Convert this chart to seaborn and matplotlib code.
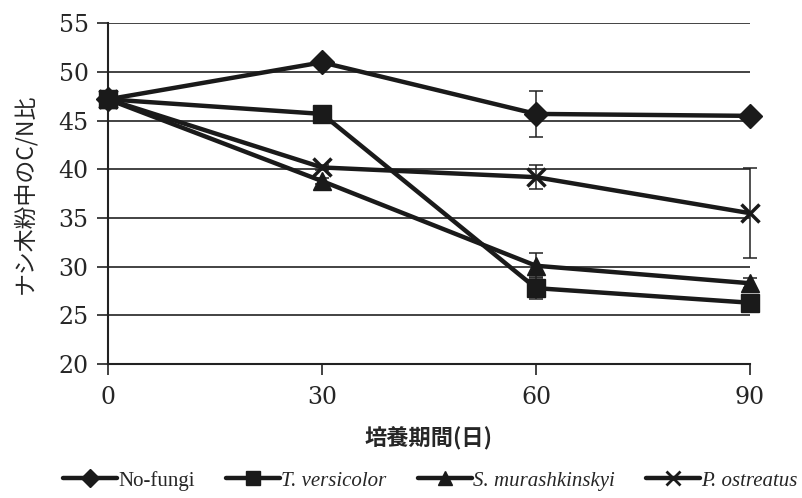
import matplotlib
matplotlib.use('Agg')
import matplotlib.pyplot as plt
import seaborn as sns
import pandas as pd
from matplotlib.lines import Line2D

days = [0, 30, 60, 90]
series_names = ['No-fungi', 'T. versicolor', 'S. murashkinskyi', 'P. ostreatus']
no_fungi = [47.2, 51.0, 45.7, 45.5]
t_versicolor = [47.2, 45.7, 27.8, 26.3]
s_murashkinskyi = [47.2, 38.8, 30.1, 28.3]
p_ostreatus = [47.2, 40.2, 39.2, 35.5]
no_fungi_err = [0.3, 0.3, 2.4, 0.2]
t_versicolor_err = [0.3, 0.3, 1.1, 0.5]
s_murashkinskyi_err = [0.3, 0.3, 1.3, 0.5]
p_ostreatus_err = [0.3, 0.3, 1.2, 4.65]

values = [no_fungi, t_versicolor, s_murashkinskyi, p_ostreatus]
errors = [no_fungi_err, t_versicolor_err, s_murashkinskyi_err, p_ostreatus_err]
markers = {'No-fungi': 'D', 'T. versicolor': 's', 'S. murashkinskyi': '^', 'P. ostreatus': 'x'}
msizes = {'No-fungi': 12, 'T. versicolor': 13, 'S. murashkinskyi': 13, 'P. ostreatus': 13}

rows = []
for name, vals in zip(series_names, values):
    for d, v in zip(days, vals):
        rows.append({'day': d, 'cn': v, 'group': name})
df = pd.DataFrame(rows)

sns.set_style('white')
plt.rcParams['font.family'] = ['DejaVu Serif']

fig = plt.figure(figsize=(8.03, 4.98), dpi=100)
ax = fig.add_axes([0.1345, 0.269, 0.7995, 0.684])

# error bars first
for name, vals, errs in zip(series_names, values, errors):
    eb = ax.errorbar(days, vals, yerr=errs, fmt='none', ecolor='#222222',
                     elinewidth=1.1, capsize=5, capthick=1.1, zorder=2)
    for part in eb.lines[1] + eb.lines[2]:
        part.set_clip_on(False)

for name in series_names:
    sub = df[df['group'] == name]
    sns.lineplot(data=sub, x='day', y='cn', ax=ax, color='#1a1a1a',
                 linewidth=3.2, marker=markers[name], markersize=msizes[name],
                 markeredgewidth=2.5 if name == 'P. ostreatus' else 1,
                 markeredgecolor='#1a1a1a', markerfacecolor='#1a1a1a',
                 legend=False, zorder=3, clip_on=False)

ax.set_xlim(0, 90)
ax.set_ylim(20, 55)
ax.set_xticks(days)
ax.set_yticks(range(20, 56, 5))
ax.yaxis.grid(True, color='#222222', linewidth=1.2)
ax.set_axisbelow(True)
for s in ['top', 'right']:
    ax.spines[s].set_visible(False)
for s in ['left', 'bottom']:
    ax.spines[s].set_color('#222222')
    ax.spines[s].set_linewidth(1.5)
ax.tick_params(axis='y', left=True, length=8, width=1.2, color='#222222', labelsize=17, pad=6)
ax.tick_params(axis='x', bottom=True, length=8, width=1.2, color='#222222', labelsize=17, pad=8)
ax.set_xlabel('培養期間(日)', family=['Noto Sans CJK JP'], fontweight='bold',
              fontsize=16, labelpad=12)
ax.set_ylabel('ナシ木粉中のC/N比', family=['Noto Sans CJK JP'], fontsize=16.5, labelpad=16)

handles = [Line2D([0], [0], color='#1a1a1a', linewidth=3.2, marker=markers[n],
                  markersize=msizes[n] * 0.75, markeredgewidth=2 if n == 'P. ostreatus' else 1)
           for n in series_names]
leg = fig.legend(handles, series_names, loc='center', bbox_to_anchor=(0.536, 0.035),
                 ncol=4, frameon=False, handlelength=2.6, handletextpad=0.05,
                 columnspacing=1.5, prop={'family': 'Liberation Serif', 'size': 15})
for t in leg.get_texts()[1:]:
    t.set_fontstyle('italic')

fig.savefig('out.png', dpi=100)
